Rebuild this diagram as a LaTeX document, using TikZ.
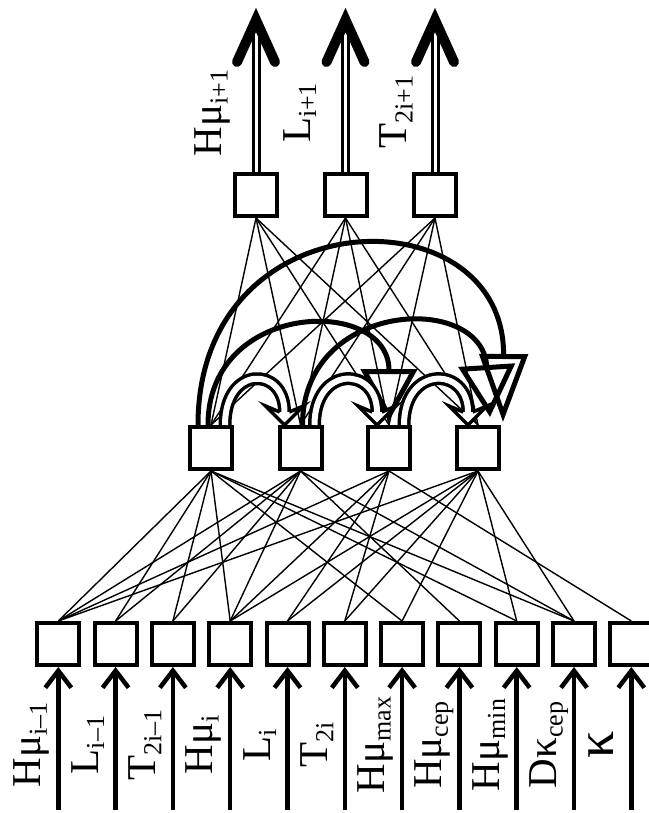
\documentclass[tikz,border=0pt]{standalone}
\usepackage{fontspec}
\setmainfont{Liberation Serif}
\usetikzlibrary{arrows.meta}
\newcommand\sbx[1]{\raisebox{-6pt}{\fontsize{26}{26}\selectfont #1}}
\begin{document}
\begin{tikzpicture}[x=1pt,y=-1pt,
  box/.style={draw, line width=4pt, fill=white, minimum size=42pt, inner sep=0pt},
  wire/.style={line width=1.4pt},
  inarrow/.style={line width=4.5pt, -{Straight Barb[length=17pt,width=26pt]}},
  lbl/.style={rotate=90, anchor=base, font=\fontsize{41}{41}\selectfont, inner sep=0pt},
  outshaft/.style={line width=3pt, double=white, double distance=3pt},
  chev/.style={line width=10pt, line cap=round, line join=miter},
  loopshaft/.style={line width=3.5pt, double=white, double distance=6pt},
  loopline/.style={line width=3.5pt, line join=miter},
  farar/.style={line width=5pt, -{Triangle[open,length=52pt,width=56pt]}},
  bigar/.style={line width=5pt, -{Triangle[open,length=68pt,width=48pt]}}]
\useasboundingbox (0,0) rectangle (648,813);
% nodes
\foreach \k in {1,...,11} {
  \node[box] (b\k) at ({58.3+57.3*(\k-1)},644) {};
  \coordinate (s\k) at ({58.3+57.3*(\k-1)},810);
}
\node[box] (m1) at (211,448) {};
\node[box] (m2) at (300.5,448) {};
\node[box] (m3) at (389,448) {};
\node[box] (m4) at (478,448) {};
\node[box] (t1) at (256,195) {};
\node[box] (t2) at (345.5,195) {};
\node[box] (t3) at (435,195) {};
\coordinate (o1) at (256,20);
\coordinate (o2) at (345.5,20);
\coordinate (o3) at (435,20);
% wires top
\foreach \i in {1,2,3} { \foreach \j in {1,2,3,4} { \draw[wire] (t\i.south) -- (m\j.north); } }
% wires bottom
\foreach \m/\l in {1/{1,2,3,4,7,9,10}, 2/{1,2,3,4,8,10}, 3/{1,4,5,6,11}, 4/{1,4,5,6,7,9,10}} {
  \foreach \b in \l { \draw[wire] (m\m.south) -- (b\b.north); }
}
% redraw boxes on top of wires
\foreach \k in {1,...,11} { \node[box] at (b\k) {}; }
\foreach \k in {1,...,4} { \node[box] at (m\k) {}; }
\foreach \k in {1,...,3} { \node[box] at (t\k) {}; }
% inputs
\foreach \k in {1,...,11} { \draw[inarrow] (s\k) -- (b\k); }
% outputs
\foreach \k in {1,2,3} {
  \draw[outshaft] (t\k) -- (o\k);
  \draw[chev] ([shift={(-19,42)}]o\k) -- (o\k) -- ([shift={(19,42)}]o\k);
}
% recurrent arcs
\draw[bigar] ([shift={(-13,0)}]m1.north) .. controls +(0,-230) and +(2,-230) .. ([shift={(25,-3)}]m4.north);
\draw[farar] ([shift={(-3,0)}]m1.north) .. controls +(0,-125) and +(0,-125) .. ([shift={(0,-4)}]m3.north);
\draw[farar] ([shift={(2,0)}]m2.north) .. controls +(0,-125) and +(-8,-125) .. ([shift={(12,-8)}]m4.north);
\foreach \a/\b/\s/\e in {1/2/14/-16, 2/3/14/-12, 3/4/15/-10} {
  \coordinate (h\a) at ([shift={(\e,0)}]m\b.north);
  \draw[loopshaft] ([shift={(\s,0)}]m\a.north) .. controls +(0,-60) and +(0,-46) .. ([shift={(0,-13)}]h\a);
  \fill[white] ([shift={(-4.75,-13)}]h\a) -- ([shift={(-19,-19)}]h\a) -- (h\a) -- ([shift={(19,-19)}]h\a) -- ([shift={(4.75,-13)}]h\a) -- cycle;
  \draw[loopline] ([shift={(-4.75,-13)}]h\a) -- ([shift={(-19,-19)}]h\a) -- (h\a) -- ([shift={(19,-19)}]h\a) -- ([shift={(4.75,-13)}]h\a);
}
% labels
\node[lbl] (l1) at ({58.3-17.5},745) {Hμ\sbx{i–1}};
\node[lbl] (l2) at ({115.6-17.5},745) {L\sbx{i–1}};
\node[lbl] (l3) at ({172.9-17.5},745) {T\sbx{2i–1}};
\node[lbl] (l4) at ({230.2-17.5},745) {Hμ\sbx{i}};
\node[lbl] (l5) at ({287.5-17.5},745) {L\sbx{i}};
\node[lbl] (l6) at ({344.8-17.5},745) {T\sbx{2i}};
\node[lbl] (l7) at ({402.1-17.5},745) {Hμ\sbx{max}};
\node[lbl] (l8) at ({459.4-17.5},745) {Hμ\sbx{cep}};
\node[lbl] (l9) at ({516.7-17.5},745) {Hμ\sbx{min}};
\node[lbl] (l10) at ({574-17.5},745) {Dκ\sbx{cep}};
\node[lbl] (l11) at ({631.3-18},745) {\fontsize{54}{54}\selectfont κ};
\node[lbl] (lo1) at (221.7,113) {Hμ\sbx{i+1}};
\node[lbl] (lo2) at (310,113) {L\sbx{i+1}};
\node[lbl] (lo3) at (406.7,112) {T\sbx{2i+1}};
\end{tikzpicture}
\end{document}
